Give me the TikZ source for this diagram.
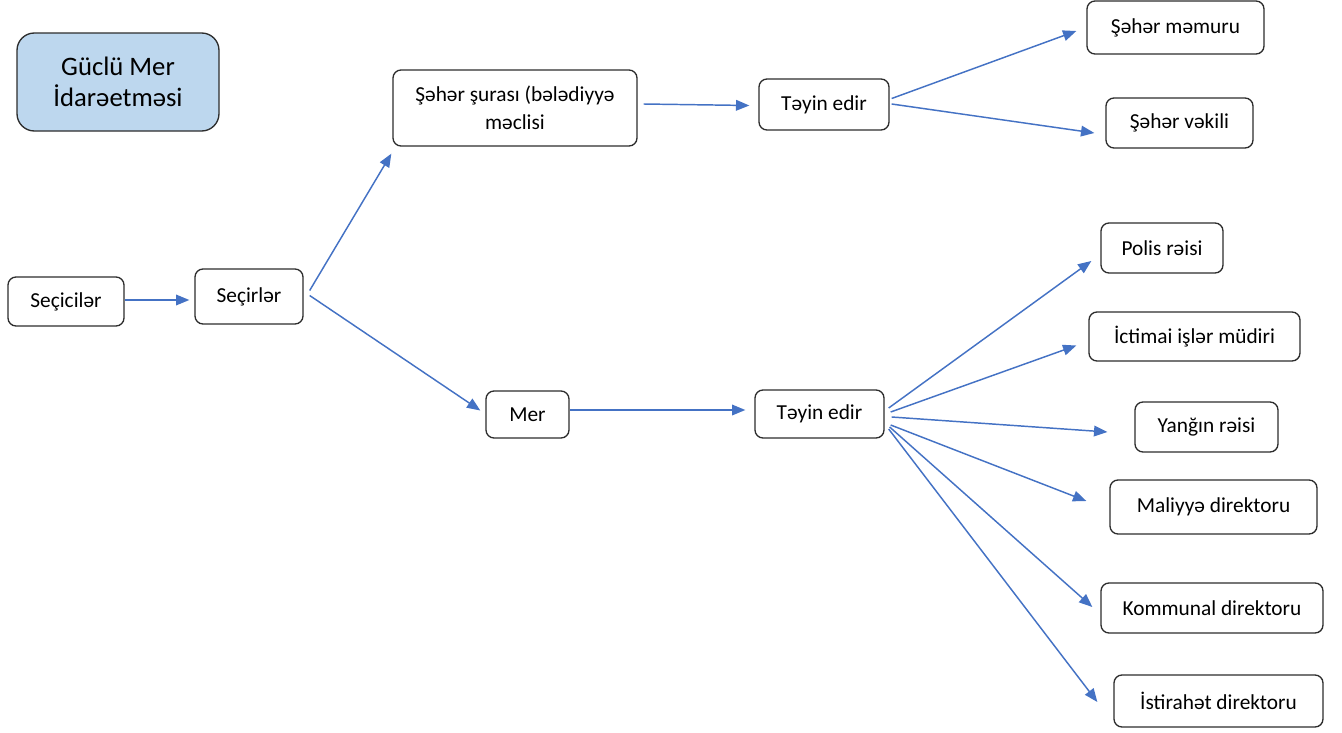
\documentclass[tikz,border=0pt]{standalone}
\usepackage{fontspec}
\setmainfont{Carlito}
\usetikzlibrary{arrows.meta}
\definecolor{arrblue}{RGB}{68,114,196}
\definecolor{boxline}{RGB}{45,45,45}
\definecolor{titlefill}{RGB}{189,215,238}
\tikzset{
  nbox/.style={draw=boxline, line width=1pt, rounded corners=6pt, fill=white,
    align=center, inner sep=0pt, font=\fontsize{16}{21}\selectfont},
  titlebox/.style={nbox, fill=titlefill, rounded corners=13pt, font=\fontsize{20}{23}\selectfont},
  arr/.style={draw=arrblue, line width=1.1pt, -{Triangle[length=10pt,width=8pt]}}
}
\begin{document}
\begin{tikzpicture}[x=0.75pt,y=-0.75pt]
\useasboundingbox (0,0) rectangle (1342,732);
% nodes
\node[titlebox, minimum width=151.5pt, minimum height=73.5pt] (title) at (118,82) {Güclü Mer\\İdarəetməsi};
\node[nbox, minimum width=87pt, minimum height=36.75pt] (seci) at (66,301.5) {Seçicilər};
\node[nbox, minimum width=81pt, minimum height=41.25pt] (secr) at (249,296.5) {Seçirlər};
\node[nbox, minimum width=183pt, minimum height=57pt] (shura) at (515,108) {Şəhər şurası (bələdiyyə\\məclisi};
\node[nbox, minimum width=97.5pt, minimum height=38.25pt] (tay1) at (824,104.5) {Təyin edir};
\node[nbox, minimum width=132.75pt, minimum height=39.75pt] (memur) at (1175.5,27.5) {Şəhər məmuru};
\node[nbox, minimum width=110.25pt, minimum height=37.5pt] (vekil) at (1179.5,123) {Şəhər vəkili};
\node[nbox, minimum width=62.25pt, minimum height=35.25pt] (mer) at (527.5,414.5) {Mer};
\node[nbox, minimum width=96.75pt, minimum height=36pt] (tay2) at (819.5,414) {Təyin edir};
\node[nbox, minimum width=91.5pt, minimum height=37.5pt] (polis) at (1162,248) {Polis rəisi};
\node[nbox, minimum width=158.25pt, minimum height=36.75pt] (ictimai) at (1194.5,336.5) {İctimai işlər müdiri};
\node[nbox, minimum width=107.25pt, minimum height=37.5pt] (yangin) at (1206.5,427) {Yanğın rəisi};
\node[nbox, minimum width=155.25pt, minimum height=40.5pt] (maliyye) at (1213.5,507) {Maliyyə direktoru};
\node[nbox, minimum width=166.5pt, minimum height=37.5pt] (kommunal) at (1212,608) {Kommunal direktoru};
\node[nbox, minimum width=156.75pt, minimum height=39pt] (istirahat) at (1218.5,701) {İstirahət direktoru};
% connectors
\draw[arr] ([shift={(0,-1.5)}]seci.east) -- ([shift={(-5,3.5)}]secr.west);
\draw[arr] ([shift={(6,-6)}]secr.east) -- ([shift={(-1,7)}]shura.south west);
\draw[arr] ([shift={(6,-1)}]secr.east) -- ([shift={(-5,-4)}]mer.west);
\draw[arr] ([shift={(6,-4)}]shura.east) -- ([shift={(-9,1)}]tay1.west);
\draw[arr] ([shift={(2,-6)}]tay1.east) -- ([shift={(-10,3.5)}]memur.west);
\draw[arr] ([shift={(2,-0.5)}]tay1.east) -- ([shift={(-11,10)}]vekil.west);
\draw[arr] ([shift={(0,-4.5)}]mer.east) -- ([shift={(-9,-4)}]tay2.west);
\draw[arr] ([shift={(4,-6)}]tay2.east) -- ([shift={(-9,13)}]polis.west);
\draw[arr] ([shift={(6,-2)}]tay2.east) -- ([shift={(-12,9)}]ictimai.west);
\draw[arr] ([shift={(7,3)}]tay2.east) -- ([shift={(-27,5)}]yangin.west);
\draw[arr] ([shift={(6,11)}]tay2.east) -- ([shift={(-23,-6)}]maliyye.west);
\draw[arr] ([shift={(5,13)}]tay2.east) -- ([shift={(-8,-1)}]kommunal.west);
\draw[arr] ([shift={(4,15)}]tay2.east) -- ([shift={(-16,1)}]istirahat.west);
\end{tikzpicture}
\end{document}
